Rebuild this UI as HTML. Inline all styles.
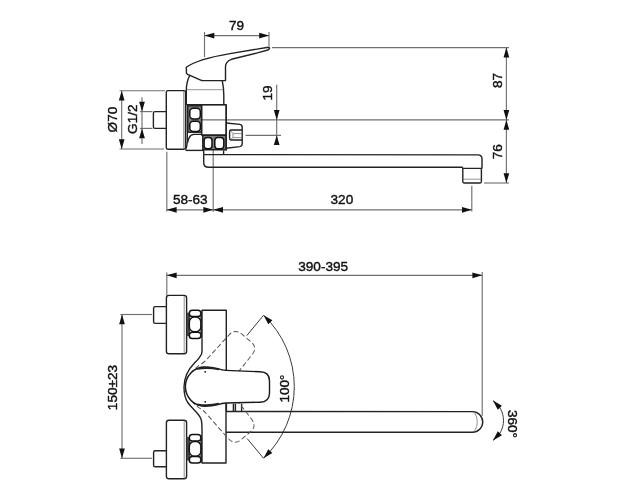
<!DOCTYPE html>
<html><head><meta charset="utf-8"><style>
html,body{margin:0;padding:0;background:#fff;}
svg{display:block;will-change:transform;filter:blur(0.3px);}
text{font-family:"Liberation Sans",sans-serif;font-size:13.6px;fill:#111;stroke:#111;stroke-width:0.4;}
.o{fill:none;stroke:#222;stroke-width:1.4;stroke-linejoin:round;}
.oh{fill:#fff;stroke:#1a1a1a;stroke-width:1.4;}
.t{fill:none;stroke:#777;stroke-width:0.8;}
.d{fill:none;stroke:#707070;stroke-width:1.15;}
.d2{fill:none;stroke:#3a3a3a;stroke-width:1;}
.dash{fill:none;stroke:#555;stroke-width:1;stroke-dasharray:5 2.6;}
.a{fill:#111;stroke:none;}
.sh{fill:#444;stroke:none;}
.nf{fill:#808080;stroke:#111;stroke-width:1.3;}
.ni{fill:#fff;stroke:#111;stroke-width:1.5;}
</style></head><body>
<svg width="625" height="500" viewBox="0 0 625 500">
<path class="d" d="M204.5,32L204.5,57"/>
<path class="d" d="M269,32L269,46"/>
<path class="d" d="M204.5,35.6L269,35.6"/>
<path class="a" d="M204.50,35.60L214.30,32.75L214.30,38.45Z"/>
<path class="a" d="M269.00,35.60L259.20,38.45L259.20,32.75Z"/>
<text x="236.5" y="30" text-anchor="middle">79</text>
<path class="d" d="M272,47.6L509,47.6"/>
<path class="d" d="M202,119.9L509,119.9"/>
<path class="d" d="M484,183L509,183"/>
<path class="d" d="M506.4,47.6L506.4,183"/>
<path class="a" d="M506.40,47.60L509.25,57.40L503.55,57.40Z"/>
<path class="a" d="M506.40,119.90L503.55,110.10L509.25,110.10Z"/>
<path class="a" d="M506.40,119.90L509.25,129.70L503.55,129.70Z"/>
<path class="a" d="M506.40,183.00L503.55,173.20L509.25,173.20Z"/>
<text x="0" y="0" text-anchor="middle" transform="translate(502,80.4) rotate(-90)">87</text>
<text x="0" y="0" text-anchor="middle" transform="translate(502,151.8) rotate(-90)">76</text>
<path class="d" d="M276.7,84.8L276.7,145"/>
<path class="d" d="M245.5,135.3L281,135.3"/>
<path class="a" d="M276.70,119.90L273.85,110.10L279.55,110.10Z"/>
<path class="a" d="M276.70,135.30L279.55,145.10L273.85,145.10Z"/>
<text x="0" y="0" text-anchor="middle" transform="translate(271.5,92.9) rotate(-90)">19</text>
<path class="d" d="M119.6,90.7L165,90.7"/>
<path class="d" d="M119.6,149L164,149"/>
<path class="d" d="M121.7,90.7L121.7,149"/>
<path class="a" d="M121.70,90.70L124.55,100.50L118.85,100.50Z"/>
<path class="a" d="M121.70,149.00L118.85,139.20L124.55,139.20Z"/>
<text x="0" y="0" text-anchor="middle" transform="translate(117,119.6) rotate(-90)">Ø70</text>
<path class="d" d="M140,111.6L152.5,111.6"/>
<path class="d" d="M140,128.4L152.5,128.4"/>
<path class="d" d="M142,97.2L142,144"/>
<path class="a" d="M142.00,111.60L139.15,101.80L144.85,101.80Z"/>
<path class="a" d="M142.00,128.40L144.85,138.20L139.15,138.20Z"/>
<text x="0" y="0" text-anchor="middle" transform="translate(137.2,119.2) rotate(-90)">G1/2</text>
<path class="d" d="M166.8,151.8L166.8,211.5"/>
<path class="d" d="M213.2,140L213.2,212"/>
<path class="d" d="M471.8,185.8L471.8,211.5"/>
<path class="d" d="M166.8,209.8L471.8,209.8"/>
<path class="a" d="M166.80,209.80L176.60,206.95L176.60,212.65Z"/>
<path class="a" d="M213.20,209.80L203.40,212.65L203.40,206.95Z"/>
<path class="a" d="M213.20,209.80L223.00,206.95L223.00,212.65Z"/>
<path class="a" d="M471.80,209.80L462.00,212.65L462.00,206.95Z"/>
<text x="190.3" y="203.6" text-anchor="middle">58-63</text>
<text x="341.9" y="203.8" text-anchor="middle">320</text>
<path class="o" d="M268.3,47.3 L230,53.6 C212,56.6 195,61 186.3,67.2 L186.5,73.2 Q187,74.6 189.9,75.3 L200.7,80.1 Q201.5,80.6 203,80.6 L225.5,80.6 L225.5,66.5 Q225.8,61 231.5,59.3 L258.3,52.6 L267.8,50 Q269.8,49 269.5,48 Q269.2,47.3 268.3,47.3 Z"/>
<path class="o" d="M189.7,75.5 Q186.4,82 186.3,90 L186.3,104.8"/>
<path class="o" d="M222.3,80.8 Q223.8,88 223.8,95 L223.8,104.8"/>
<path class="t" d="M187,89.7 L222.8,89.7"/>
<path class="o" d="M186.3,104.6 L225.5,104.6"/>
<rect class="o" x="166.3" y="90.6" width="19.2" height="58.6" rx="1.6"/>
<path class="t" d="M183.7,91 L183.7,149"/>
<path class="o" d="M166.3,111.6 L155,111.6 Q153.4,111.6 153.4,113.2 L153.4,126.8 Q153.4,128.4 155,128.4 L166.3,128.4"/>
<rect class="nf" x="187.8" y="105.8" width="13.8" height="26.4"/>
<rect class="ni" x="189.8" y="108.3" width="10.5" height="10.6" rx="3.4"/>
<rect class="ni" x="189.8" y="121.2" width="10.5" height="10.3" rx="3.4"/>
<rect class="o" x="201.6" y="104.8" width="24.6" height="30.3"/>
<path class="o" d="M187.4,143 Q188.3,139 189.2,137.6 Q190.6,134.6 194,134.4 L202.5,134.4"/>
<path class="o" d="M187.3,104.6 L187.3,141 Q187.2,146 185.6,149.6"/>
<path class="o" d="M185.5,150.4 L203.7,150.4"/>
<rect class="nf" x="202.8" y="135.2" width="23.4" height="14.6"/>
<rect class="ni" x="204.1" y="137.5" width="7.9" height="11.3" rx="3"/>
<rect class="ni" x="214.8" y="137.5" width="9" height="11.3" rx="3"/>
<path class="o" d="M226.2,123 L239.8,124.4 Q242.2,124.8 242.2,127.2 L242.2,143.8 Q242.2,146.2 239.8,146.6 L226.2,148.2"/>
<path class="o" d="M242,130 L231,130 Q229.6,130 229.6,131.4 L229.6,138.6 Q229.6,140 231,140 L242,140"/>
<path class="t" d="M231,131 L233,133.6 L242,133.6 M231,139 L233,137.6 L242,137.6 M233,133.6 L233,137.6"/>
<path class="o" d="M226.2,104.8 L226.2,150.4"/>
<path class="o" d="M203.7,150.4 L203.7,154.6 M223.6,150.4 L223.6,154.6"/>
<path class="o" d="M203.7,154.6 L478,154.9 Q482,155 482,159 L482,168.4 M203.7,154.6 L203.7,162.5 Q203.7,167.3 208.5,167.3 L462.8,167.3"/>
<path class="o" d="M462.8,167.6 L462.8,181.4 Q462.8,183 464.4,183 L479.8,183 Q481.4,183 481.4,181.4 L481.4,168.4 L462.8,168.4"/>
<path class="t" d="M463,179.2 L481,179.2"/>
<path class="d" d="M166.8,272.5L166.8,295.4"/>
<path class="d" d="M482.2,272L482.2,416"/>
<path class="d" d="M166.8,275.3L482.2,275.3"/>
<path class="a" d="M166.80,275.30L176.60,272.45L176.60,278.15Z"/>
<path class="a" d="M482.20,275.30L472.40,278.15L472.40,272.45Z"/>
<text x="323.2" y="271" text-anchor="middle">390-395</text>
<path class="d" d="M120.4,314.5L152,314.5"/>
<path class="d" d="M120.4,458.3L152,458.3"/>
<path class="d" d="M122,314.5L122,458.3"/>
<path class="a" d="M122.00,314.50L124.85,324.30L119.15,324.30Z"/>
<path class="a" d="M122.00,458.30L119.15,448.50L124.85,448.50Z"/>
<text x="0" y="0" text-anchor="middle" transform="translate(117,387.5) rotate(-90)">150±23</text>
<path class="d2" d="M263.58,315.23 A98.5,98.5 0 0 1 263.52,458.22"/>
<path class="d2" d="M246.8,335.6 L263.58,315.23"/>
<path class="d2" d="M247.2,438.6 L263.52,458.22"/>
<path class="a" d="M263.58,315.23L272.40,320.35L268.28,324.28Z"/>
<path class="a" d="M263.52,458.22L268.24,449.17L272.36,453.11Z"/>
<text x="0" y="0" text-anchor="middle" transform="translate(289.3,388.5) rotate(-90)">100°</text>
<path class="d2" d="M492.92,400.60 A24,24 0 0 1 492.92,440.40"/>
<path class="a" d="M492.92,400.60L501.96,405.77L497.79,409.81Z"/>
<path class="a" d="M492.92,440.40L497.79,431.19L501.96,435.23Z"/>
<text x="0" y="0" text-anchor="middle" transform="translate(508,424) rotate(90)">360°</text>
<rect class="o" x="166.4" y="295.4" width="20.2" height="58.4" rx="2.6"/>
<path class="t" d="M184.2,295.9 L184.2,353.3"/>
<rect class="o" x="166.4" y="420.2" width="20.2" height="58.6" rx="2.6"/>
<path class="t" d="M184.2,420.7 L184.2,478.3"/>
<path class="o" d="M166.4,306.6 L155.2,306.6 Q153.6,306.6 153.6,308.20000000000005 L153.6,321.79999999999995 Q153.6,323.4 155.2,323.4 L166.4,323.4"/>
<path class="o" d="M166.4,450.8 L155.2,450.8 Q153.6,450.8 153.6,452.40000000000003 L153.6,465.2 Q153.6,466.8 155.2,466.8 L166.4,466.8"/>
<rect class="sh" x="186.8" y="312.7" width="3.2" height="23.4"/>
<rect class="ni" x="189.3" y="310.2" width="11.6" height="6.4" rx="3.1"/>
<rect class="ni" x="189.3" y="317.0" width="11.6" height="14.8" rx="5"/>
<rect class="ni" x="189.3" y="332.2" width="11.6" height="6.4" rx="3.1"/>
<path class="o" d="M201.2,311.2 L201.2,337.59999999999997" style="stroke-width:1.6"/>
<rect class="sh" x="186.8" y="437.1" width="3.2" height="23.4"/>
<rect class="ni" x="189.3" y="434.6" width="11.6" height="6.4" rx="3.1"/>
<rect class="ni" x="189.3" y="441.40000000000003" width="11.6" height="14.8" rx="5"/>
<rect class="ni" x="189.3" y="456.6" width="11.6" height="6.4" rx="3.1"/>
<path class="o" d="M201.2,435.6 L201.2,462.0" style="stroke-width:1.6"/>
<path class="o" d="M202,338.6 L202,310.3 L226.3,310.3 L226.3,372"/>
<path class="o" d="M202,338.6 L202,351.5 C202,356 198,359.5 194.5,363 C189.5,368 184.2,375 184,387 C184,395 185.5,399.5 188.1,403 C190.5,406.3 193,408.5 195.3,411.1 C198,414 200.5,416.5 201.4,420.5 C201.9,423 202,426 202,430 L202,463 L226,463 L226,402"/>
<path class="o" d="M226.4,403.8 L226.4,411 M233.4,403.8 L233.4,411 M235.4,403.8 L235.4,411 M241.6,403.8 L241.6,411"/>
<path class="o" d="M226,411.5 L472.4,411.6 A10.35,10.35 0 0 1 472.4,432.3 L226,432.2"/>
<path class="t" d="M474.6,412.4 Q480,421.8 474.6,431.2"/>
<path class="dash" transform="translate(205 386.6) rotate(-50) translate(-205 -386.6)" d="M205,367 Q212,367 218,368.6 Q222,370.2 226,370.4 L259.4,371.8 Q268.9,372 268.9,381 L268.9,393 Q268.9,402 259.4,402.2 L226,403 Q222,403.2 218,404.6 Q212,406.2 205,406.2 A19.6,19.6 0 0 1 205,367 Z"/>
<path class="dash" transform="translate(205 386.6) rotate(50) translate(-205 -386.6)" d="M205,367 Q212,367 218,368.6 Q222,370.2 226,370.4 L259.4,371.8 Q268.9,372 268.9,381 L268.9,393 Q268.9,402 259.4,402.2 L226,403 Q222,403.2 218,404.6 Q212,406.2 205,406.2 A19.6,19.6 0 0 1 205,367 Z"/>
<path class="oh" d="M205,367 Q212,367 218,368.6 Q222,370.2 226,370.4 L260,371.8 Q269.5,372 269.5,381 L269.5,393 Q269.5,402 260,402.2 L226,403 Q222,403.2 218,404.6 Q212,406.2 205,406.2 A19.6,19.6 0 0 1 205,367 Z"/>
<path class="o" style="stroke-width:1.8" d="M197,368.9 Q208,366.8 219,369.5 M197,404.3 Q208,406.4 219,403.7"/>
<circle cx="205.2" cy="371.8" r="0.9" fill="#111"/><circle cx="205.2" cy="401.8" r="0.9" fill="#111"/>
</svg>
</body></html>
